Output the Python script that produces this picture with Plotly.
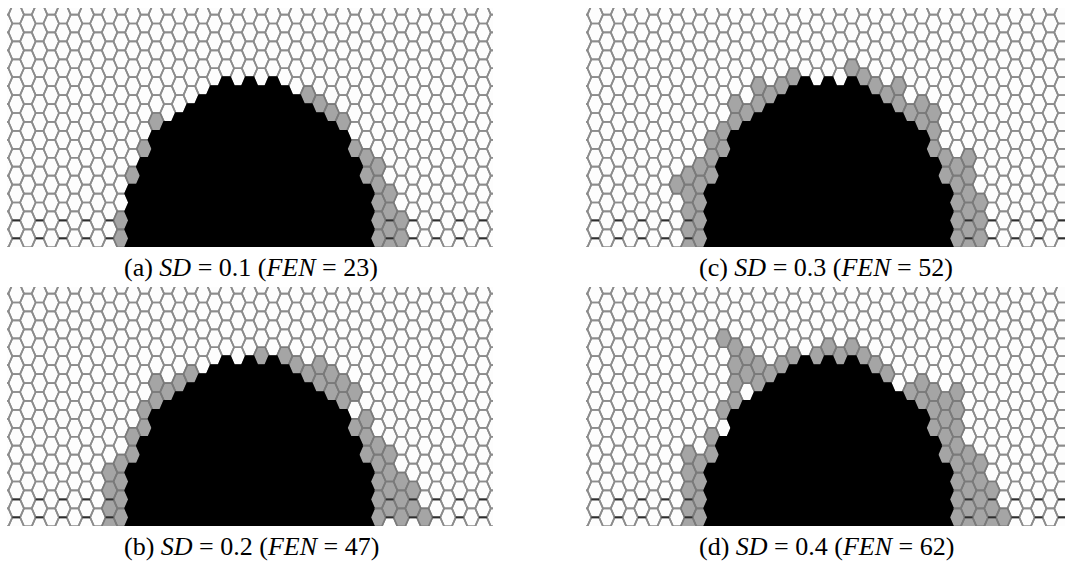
import plotly.graph_objects as go

FIG_W, FIG_H = 1067, 566

# hexagonal lattice geometry, in pixels of each panel
COL_STEP = 11.67          # horizontal distance between neighbouring columns
ROW_STEP = 17.9           # vertical distance between cells of one column
X_FIRST = 9.2             # centre of column 0
Y_ODD = -2.4              # centre of row 0 in odd columns
Y_EVEN = 6.55             # centre of row 0 in even columns
COLS = range(-1, 43)
ROWS = range(-1, 15)

# burned area (identical in the four runs): first burned row of each column
burn_cols = list(range(10, 31))
burn_top_row = [10, 9, 7, 7, 6, 6, 5, 5, 4, 5, 4, 5, 4, 5, 5, 6, 6, 7, 7, 9, 10]

# fire edge nodes (column, row) for each standard deviation
fen_a = [(12, 6), (11, 8), (10, 9), (9, 12), (9, 13),
         (25, 5), (26, 5), (27, 6), (28, 6), (29, 8), (30, 8), (30, 9),
         (31, 9), (31, 10), (31, 11), (31, 12), (31, 13),
         (32, 10), (32, 11), (32, 12), (32, 13), (33, 12), (33, 13)]

fen_b = [(15, 5), (14, 5), (13, 6), (12, 5), (12, 6), (11, 7), (11, 8),
         (10, 8), (10, 9), (9, 10), (9, 11), (9, 12), (9, 13),
         (8, 10), (8, 11), (8, 12), (8, 13),
         (21, 4), (23, 4), (24, 4), (25, 5), (26, 4), (26, 5), (27, 5), (27, 6),
         (28, 5), (28, 6), (29, 6), (29, 8), (30, 7), (30, 8), (30, 9),
         (31, 9), (31, 10), (31, 11), (31, 12), (31, 13),
         (32, 9), (32, 10), (32, 11), (32, 12),
         (33, 11), (33, 12), (33, 13), (34, 11), (34, 12), (35, 13)]

fen_c = [(17, 4), (16, 4), (15, 5), (14, 4), (14, 5), (13, 6), (12, 5), (12, 6),
         (11, 7), (11, 8), (10, 7), (10, 8), (10, 9),
         (9, 9), (9, 10), (9, 11), (9, 12), (9, 13),
         (8, 9), (8, 10), (8, 11), (8, 12), (8, 13), (7, 10),
         (22, 3), (23, 4), (24, 4), (25, 5), (26, 4), (26, 5), (27, 6),
         (28, 5), (28, 6), (29, 6), (29, 7), (29, 8), (30, 8), (30, 9),
         (31, 9), (31, 10), (31, 11), (31, 12), (31, 13),
         (32, 8), (32, 9), (32, 10), (32, 11), (32, 12), (32, 13),
         (33, 11), (33, 12), (33, 13)]

fen_d = [(11, 3), (12, 3), (12, 4), (13, 4), (13, 5), (14, 4), (14, 5), (15, 5),
         (16, 4), (17, 4), (12, 5), (12, 6), (11, 7), (10, 8), (10, 9),
         (9, 10), (9, 11), (9, 12), (9, 13),
         (8, 9), (8, 10), (8, 11), (8, 12), (8, 13),
         (19, 4), (20, 3), (21, 4), (22, 3), (23, 4),
         (24, 4), (25, 5), (27, 6), (28, 5), (28, 6), (29, 6), (29, 7), (29, 8),
         (30, 6), (30, 7), (30, 8), (30, 9),
         (31, 6), (31, 7), (31, 8), (31, 9), (31, 10), (31, 11), (31, 12), (31, 13),
         (32, 9), (32, 10), (32, 11), (32, 12), (32, 13),
         (33, 10), (33, 11), (33, 12), (33, 13),
         (34, 11), (34, 12), (34, 13), (35, 13)]

sd_values = ["0.1", "0.2", "0.3", "0.4"]
fen_counts = [23, 47, 52, 62]
panel_tags = ["a", "b", "c", "d"]
panel_cells = [fen_a, fen_b, fen_c, fen_d]

# panel boxes in page pixels: left, right, top, bottom
PANELS = [(7, 493, 8, 247), (7, 493, 287, 526),
          (586, 1065, 8, 247), (586, 1065, 287, 526)]
LABEL_POS = [(251, 267), (251, 546), (826, 267), (826, 546)]

HALF_W = COL_STEP / 1.5
HALF_H = ROW_STEP / 2
HEX = [(HALF_W, 0), (HALF_W / 2, HALF_H), (-HALF_W / 2, HALF_H),
       (-HALF_W, 0), (-HALF_W / 2, -HALF_H), (HALF_W / 2, -HALF_H)]

# lower rows of the lattice whose horizontal edges print darker
DARK_EDGE_ROWS = [12, 13]


def centre(c, r):
    cx = X_FIRST + COL_STEP * c
    cy = (Y_EVEN if c % 2 == 0 else Y_ODD) + ROW_STEP * r
    return cx, cy


def hex_path(cells):
    xs, ys = [], []
    for c, r in cells:
        cx, cy = centre(c, r)
        for dx, dy in HEX + [HEX[0]]:
            xs.append(cx + dx)
            ys.append(cy + dy)
        xs.append(None)
        ys.append(None)
    return xs, ys


def top_edges(cells):
    xs, ys = [], []
    for c, r in cells:
        cx, cy = centre(c, r)
        xs += [cx - HALF_W / 2, cx + HALF_W / 2, None]
        ys += [cy - HALF_H, cy - HALF_H, None]
    return xs, ys


burned = [(c, r) for c, top in zip(burn_cols, burn_top_row) for r in ROWS if r >= top]
burned_set = set(burned)
all_cells = [(c, r) for c in COLS for r in ROWS]

fig = go.Figure()
layout = {}
for i, ((x0, x1, y0, y1), edge) in enumerate(zip(PANELS, panel_cells)):
    sfx = "" if i == 0 else str(i + 1)
    xa, ya = "x" + sfx, "y" + sfx
    edge_set = set(edge)
    unburned = [cell for cell in all_cells if cell not in edge_set and cell not in burned_set]
    for cells, fill, line in [(unburned, "#fdfdfd", "#8c8c8c"),
                              (edge, "#a5a5a5", "#7a7a7a"),
                              (burned, "#000000", "#000000")]:
        xs, ys = hex_path(cells)
        fig.add_trace(go.Scatter(x=xs, y=ys, mode="lines", fill="toself",
                                 fillcolor=fill, line=dict(color=line, width=1.7),
                                 hoverinfo="skip", showlegend=False,
                                 xaxis=xa, yaxis=ya))
    dark = [(c, r) for c, r in all_cells
            if c % 2 == 0 and r in DARK_EDGE_ROWS and (c, r) not in burned_set]
    xs, ys = top_edges(dark)
    fig.add_trace(go.Scatter(x=xs, y=ys, mode="lines",
                             line=dict(color="#2e2e2e", width=1.8),
                             hoverinfo="skip", showlegend=False,
                             xaxis=xa, yaxis=ya))
    w, h = x1 - x0, y1 - y0
    layout["xaxis" + sfx] = dict(domain=[x0 / FIG_W, x1 / FIG_W], range=[0, w],
                                 visible=False, fixedrange=True)
    layout["yaxis" + sfx] = dict(domain=[1 - y1 / FIG_H, 1 - y0 / FIG_H], range=[h, 0],
                                 visible=False, fixedrange=True)

annotations = []
for tag, sd, fen, (lx, ly) in zip(panel_tags, sd_values, fen_counts, LABEL_POS):
    annotations.append(dict(
        text=f"({tag}) <i>SD</i> = {sd} (<i>FEN</i> = {fen})",
        x=lx / FIG_W, y=1 - ly / FIG_H, xref="paper", yref="paper",
        xanchor="center", yanchor="middle", showarrow=False,
        font=dict(family="Liberation Serif, Times New Roman, serif", size=26,
                  color="black")))

fig.update_layout(width=FIG_W, height=FIG_H, margin=dict(l=0, r=0, t=0, b=0),
                  paper_bgcolor="white", plot_bgcolor="white",
                  annotations=annotations, **layout)
fig.write_html("out.html")
